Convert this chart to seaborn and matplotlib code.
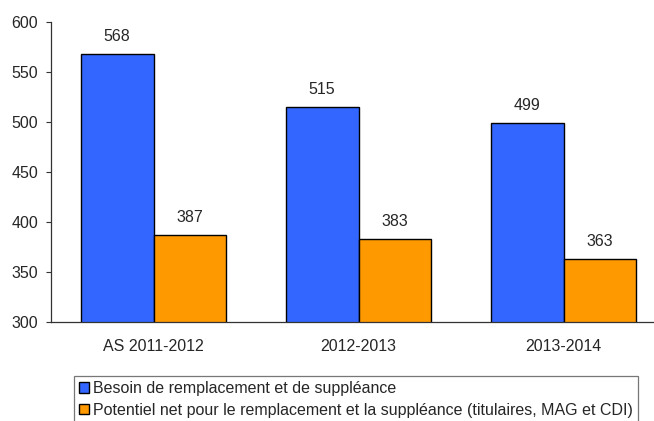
import pandas as pd
import matplotlib
matplotlib.use("Agg")
import matplotlib.pyplot as plt
import seaborn as sns
from matplotlib.patches import Patch

# Data
years = ["AS 2011-2012", "2012-2013", "2013-2014"]
besoin = [568, 515, 499]
potentiel = [387, 383, 363]
series_names = [
    "Besoin de remplacement et de suppléance",
    "Potentiel net pour le remplacement et la suppléance (titulaires, MAG et CDI)",
]
colors = ["#3366FF", "#FF9900"]

df = pd.DataFrame({
    "annee": years * 2,
    "valeur": besoin + potentiel,
    "serie": [series_names[0]] * 3 + [series_names[1]] * 3,
})

sns.set_style("white")
plt.rcParams["font.family"] = ["Liberation Sans", "DejaVu Sans"]
fs = 11.5
plt.rcParams["font.size"] = fs

fig = plt.figure(figsize=(6.54, 4.21), dpi=100)
ax = fig.add_axes([51 / 654, 99 / 421, 615 / 654, 300 / 421])

sns.barplot(data=df, x="annee", y="valeur", hue="serie", order=years,
            hue_order=series_names, palette=colors, width=0.71,
            edgecolor="black", linewidth=1, saturation=1, ax=ax, legend=False)

for cont in ax.containers:
    ax.bar_label(cont, fmt="%d", padding=7, fontsize=fs)

ax.set_ylim(300, 600)
ax.set_xlim(-0.5, 2.5)
ax.set_yticks(range(300, 601, 50))
ax.set_xlabel("")
ax.set_ylabel("")
ax.set_xticks([0.5, 1.5], minor=True)
ax.tick_params(axis="x", which="major", length=0, pad=12, labelsize=fs)
ax.tick_params(axis="x", which="minor", length=4, width=0.8, color="#333333")
ax.tick_params(axis="y", length=3.6, width=0.8, color="#333333", left=True, labelsize=fs, pad=5.5)
for s in ["top", "right"]:
    ax.spines[s].set_visible(False)
for s in ["left", "bottom"]:
    ax.spines[s].set_color("#333333")
    ax.spines[s].set_linewidth(0.9)

handles = [Patch(facecolor=c, edgecolor="black", linewidth=1) for c in colors]
leg = fig.legend(handles, series_names, loc="upper left",
                 bbox_to_anchor=(74 / 654, 1 - 376 / 421),
                 frameon=True, fancybox=False, borderpad=0.3,
                 handlelength=0.65, handleheight=0.65, handletextpad=0.25,
                 labelspacing=0.42, borderaxespad=0, fontsize=fs)
leg.get_frame().set_edgecolor("#555555")
leg.get_frame().set_linewidth(0.9)
# nudge the legend content down a little inside the frame
leg._legend_box.align = "left"

fig.savefig("out.png", dpi=100)
